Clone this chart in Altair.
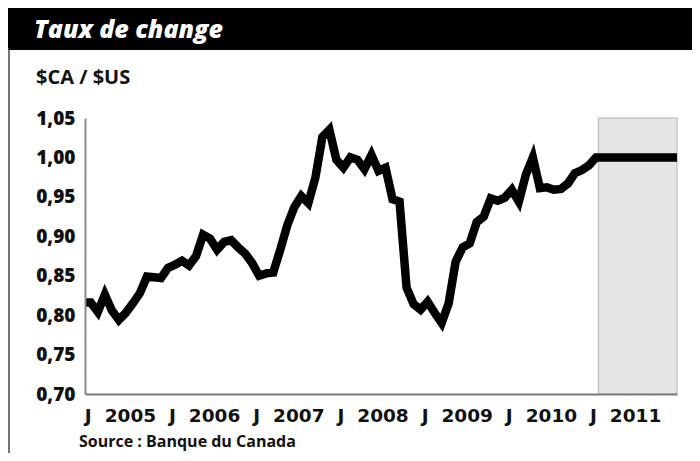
import altair as alt
import pandas as pd

# ---- data ----
# monthly $CA/$US values, Dec 2004 .. Dec 2010
start_year, start_month = 2004, 12
hist_values = [
    0.816, 0.816, 0.804, 0.826, 0.806, 0.794, 0.803, 0.815, 0.828, 0.849,
    0.848, 0.847, 0.860, 0.864, 0.869, 0.863, 0.875, 0.902, 0.897, 0.883,
    0.893, 0.895, 0.886, 0.878, 0.866, 0.850, 0.853, 0.854, 0.883, 0.914,
    0.937, 0.951, 0.942, 0.974, 1.026, 1.035, 0.997, 0.987, 1.000, 0.997,
    0.985, 1.003, 0.983, 0.987, 0.947, 0.944, 0.835, 0.814, 0.807, 0.817,
    0.803, 0.790, 0.815, 0.868, 0.886, 0.891, 0.918, 0.925, 0.948, 0.945,
    0.949, 0.959, 0.944, 0.978, 1.000, 0.961, 0.962, 0.959, 0.960, 0.967,
    0.980, 0.984, 0.990,
]
# forecast (shaded zone): parity through 2011
forecast_months = ["2011-01", "2012-01"]
forecast_values = [1.00, 1.00]

# shaded forecast zone, in decimal years
shade_from = [2011.03]
shade_to = [2011.962]

y_ticks = [0.70, 0.75, 0.80, 0.85, 0.90, 0.95, 1.00, 1.05]
x_tick_years = [2005, 2006, 2007, 2008, 2009, 2010, 2011]

title_text = "Taux de change"
unit_text = "$CA / $US"
source_text = "Source : Banque du Canada"


def month_list(y, m, n):
    out = []
    for _ in range(n):
        out.append(f"{y:04d}-{m:02d}")
        m += 1
        if m > 12:
            m, y = 1, y + 1
    return out


def to_dec(s):
    y, m = s.split("-")
    return int(y) + (int(m) - 1) / 12.0


hist_months = month_list(start_year, start_month, len(hist_values))
months = hist_months + forecast_months
values = hist_values + forecast_values
df = pd.DataFrame({"mois": months, "t": [to_dec(s) for s in months], "taux": values})
shade_df = pd.DataFrame({"t0": shade_from, "t1": shade_to})

x_domain = [2004.931, 2011.962]
y_domain = [0.70, 1.05]
x_vals = []
for yr in x_tick_years:
    x_vals += [yr, yr + 0.5]

W, H = 592, 276
one = alt.Data(values=[{}])

x_scale = alt.Scale(domain=x_domain, nice=False, zero=False)
y_scale = alt.Scale(domain=y_domain, nice=False, zero=False)

x_axis = alt.Axis(
    values=x_vals,
    labelExpr="datum.value % 1 == 0 ? 'J' : toString(floor(datum.value))",
    labelFont="DejaVu Sans", labelFontWeight="bold", labelFontSize=18.5,
    labelColor="#111111", labelPadding=12, ticks=False, tickSize=0,
    grid=False, domainColor="#7a7a7a", domainWidth=2, labelFlush=False,
    labelOverlap=False, labelOffset=-3, title=None, zindex=1,
)
y_axis = alt.Axis(
    values=y_ticks,
    labelExpr="replace(format(datum.value, '.2f'), '.', ',')",
    labelFont="Open Sans", labelFontWeight=800, labelFontSize=19,
    labelColor="#111111", labelPadding=10, ticks=False, tickSize=0,
    grid=False, domainColor="#8a8a8a", domainWidth=2, title=None,
    labelOverlap=False, zindex=1,
)

shade = alt.Chart(shade_df).mark_rect(
    fill="#e5e5e5", stroke="#c6c6c6", strokeWidth=1.5
).encode(
    x=alt.X("t0:Q", scale=x_scale, axis=x_axis),
    x2="t1:Q",
    y=alt.Y(datum=1.05, type="quantitative", scale=y_scale, axis=y_axis),
    y2=alt.Y2(datum=0.70),
)

line = alt.Chart(df).mark_line(
    color="black", strokeWidth=8.5, clip=True, strokeJoin="miter"
).encode(
    x=alt.X("t:Q", scale=x_scale, axis=x_axis),
    y=alt.Y("taux:Q", scale=y_scale, axis=y_axis),
    order="t:Q",
)

bar = alt.Chart(one).mark_rect(color="black").encode(
    x=alt.value(-77), x2=alt.value(607), y=alt.value(-110), y2=alt.value(-68)
)
border = alt.Chart(one).mark_rule(color="#444444", strokeWidth=1.5).encode(
    x=alt.value(-76), y=alt.value(-70), y2=alt.value(335)
)
title = alt.Chart(one).mark_text(
    text=title_text, font="Open Sans", fontWeight=800, fontStyle="italic",
    fontSize=25, color="white", align="left", baseline="alphabetic",
).encode(x=alt.value(-51), y=alt.value(-80))
unit = alt.Chart(one).mark_text(
    text=unit_text, font="Open Sans", fontWeight="bold", fontSize=20,
    color="#111111", align="left", baseline="alphabetic",
).encode(x=alt.value(-49), y=alt.value(-34))
source = alt.Chart(one).mark_text(
    text=source_text, font="Open Sans", fontWeight="bold", fontSize=16,
    color="#111111", align="left", baseline="alphabetic",
).encode(x=alt.value(-6), y=alt.value(329))

chart = alt.layer(bar, border, shade, line, title, unit, source).properties(
    width=W, height=H,
    padding={"left": 77, "top": 110, "right": 15, "bottom": 59},
    autosize=alt.AutoSizeParams(type="none"),
    background="white",
).configure_view(stroke=None)

chart.save("out.html", embed_options={"renderer": "svg", "actions": False})
